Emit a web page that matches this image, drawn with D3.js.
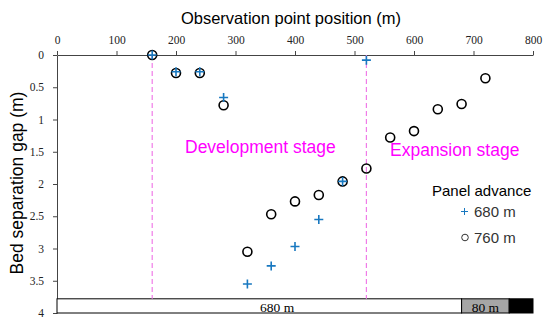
<!DOCTYPE html>
<html>
<head>
<meta charset="utf-8">
<script src="https://cdn.jsdelivr.net/npm/d3@7"></script>
<style>
  body { margin: 0; background: #fff; }
</style>
</head>
<body>
<div id="chart"></div>
<script>
// observation point positions (m)
var posCircle = [160, 200, 240, 280, 320, 360, 400, 440, 480, 520, 560, 600, 640, 680, 720];
var gap760 = [0, 0.28, 0.28, 0.78, 3.05, 2.47, 2.27, 2.17, 1.96, 1.76, 1.28, 1.18, 0.84, 0.76, 0.36];
var posPlus = [160, 200, 240, 280, 320, 360, 400, 440, 480, 520];
var gap680 = [0, 0.26, 0.26, 0.66, 3.55, 3.27, 2.97, 2.55, 1.96, 0.08];
var xTicks = [0, 100, 200, 300, 400, 500, 600, 700, 800];
var yTicks = [0, 0.5, 1, 1.5, 2, 2.5, 3, 3.5, 4];
var stageLines = [160, 520];
var panelBar = [
  {from: 0, to: 680, label: "680 m", fill: "#fff"},
  {from: 680, to: 760, label: "80 m", fill: "#a6a6a6"},
  {from: 760, to: 800, label: "", fill: "#000"}
];

var width = 550, height = 323;
var margin = {top: 55, right: 17, bottom: 10, left: 57};
var serif = "'Liberation Serif', 'Times New Roman', serif";
var sans = "'Liberation Sans', Arial, sans-serif";

var svg = d3.select("#chart").append("svg")
  .attr("width", width)
  .attr("height", height);

var x = d3.scaleLinear().domain([0, 800]).range([margin.left, width - margin.right]);
var y = d3.scaleLinear().domain([0, 4]).range([margin.top, height - margin.bottom]);

function styleAxis(g) {
  g.attr("font-family", null).attr("font-size", null);
  g.selectAll("path, line").attr("stroke", "#444");
  g.selectAll("text").attr("fill", "#222")
    .style("font-family", serif).style("font-size", "11.5px");
}

// axes
svg.append("g")
  .attr("transform", "translate(0," + y(0) + ")")
  .call(d3.axisTop(x).tickValues(xTicks).tickFormat(function(d) { return d; })
    .tickSize(4).tickPadding(7).tickSizeOuter(0))
  .call(styleAxis);

svg.append("g")
  .attr("transform", "translate(" + x(0) + ",0)")
  .call(d3.axisLeft(y).tickValues(yTicks).tickFormat(function(d) { return d; })
    .tickSize(4).tickPadding(9).tickSizeOuter(0))
  .call(styleAxis);

// axis titles
svg.append("text")
  .attr("x", x(400) - 4)
  .attr("y", 24)
  .attr("text-anchor", "middle")
  .style("font-family", sans)
  .style("font-size", "16.5px")
  .text("Observation point position (m)");

svg.append("text")
  .attr("transform", "translate(23," + 183 + ") rotate(-90)")
  .attr("text-anchor", "middle")
  .style("font-family", sans)
  .style("font-size", "17.5px")
  .text("Bed separation gap (m)");

// panel bar at bottom
var barTop = y(3.78), barBot = y(4);
svg.selectAll(".seg")
  .data(panelBar)
  .enter().append("rect")
  .attr("class", "seg")
  .attr("x", function(d) { return x(d.from); })
  .attr("y", barTop)
  .attr("width", function(d) { return x(d.to) - x(d.from); })
  .attr("height", barBot - barTop)
  .attr("fill", function(d) { return d.fill; })
  .attr("stroke", "#000")
  .attr("stroke-width", 1);

svg.selectAll(".segLabel")
  .data(panelBar.filter(function(d) { return d.label; }))
  .enter().append("text")
  .attr("x", function(d, i) { return i === 0 ? x(370) : x((d.from + d.to) / 2); })
  .attr("y", barBot - 1.5)
  .attr("text-anchor", "middle")
  .style("font-family", serif)
  .style("font-size", "13.5px")
  .text(function(d) { return d.label; });

// stage boundaries
svg.selectAll(".stage")
  .data(stageLines)
  .enter().append("line")
  .attr("x1", function(d) { return x(d); })
  .attr("x2", function(d) { return x(d); })
  .attr("y1", y(0))
  .attr("y2", barTop)
  .attr("stroke", "#f07ce8")
  .attr("stroke-width", 1.2)
  .attr("stroke-dasharray", "5,3");

svg.append("text")
  .attr("x", 185).attr("y", 153)
  .attr("fill", "#ff00ff")
  .style("font-family", sans)
  .style("font-size", "17.5px")
  .text("Development stage");

svg.append("text")
  .attr("x", 390).attr("y", 156)
  .attr("fill", "#ff00ff")
  .style("font-family", sans)
  .style("font-size", "17.5px")
  .text("Expansion stage");

// 760 m circles
svg.selectAll(".c760")
  .data(posCircle)
  .enter().append("circle")
  .attr("cx", function(d) { return x(d); })
  .attr("cy", function(d, i) { return y(gap760[i]); })
  .attr("r", 4.5)
  .attr("fill", "none")
  .attr("stroke", "#000")
  .attr("stroke-width", 1.6);

// 680 m plus markers
svg.selectAll(".p680")
  .data(posPlus)
  .enter().append("path")
  .attr("transform", function(d, i) { return "translate(" + x(d) + "," + y(gap680[i]) + ")"; })
  .attr("d", "M-4.5,0H4.5M0,-4.5V4.5")
  .attr("stroke", "#1878c0")
  .attr("stroke-width", 1.6);

// legend
var lg = svg.append("g").style("font-family", sans).style("font-size", "15px");
lg.append("text").attr("x", 432).attr("y", 196).text("Panel advance");
lg.append("path").attr("d", "M461,211.5H468M464.5,208V215").attr("stroke", "#1878c0").attr("stroke-width", 1);
lg.append("text").attr("x", 474).attr("y", 217).attr("fill", "#333").text("680 m");
lg.append("circle").attr("cx", 465).attr("cy", 237.5).attr("r", 3.3).attr("fill", "none").attr("stroke", "#333");
lg.append("text").attr("x", 474).attr("y", 243).attr("fill", "#333").text("760 m");
</script>
</body>
</html>
